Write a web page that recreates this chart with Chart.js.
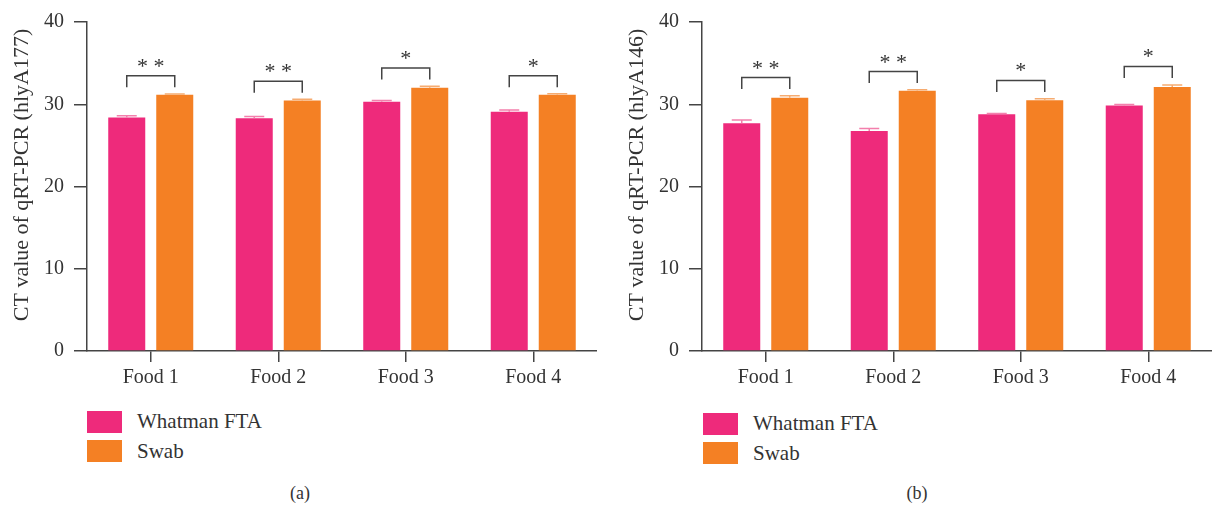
<!DOCTYPE html>
<html>
<head>
<meta charset="utf-8">
<script src="https://cdn.jsdelivr.net/npm/chart.js@4/dist/chart.umd.min.js"></script>
<style>
  body { margin: 0; background: #fff; width: 1212px; height: 506px; position: relative; overflow: hidden;
         font-family: 'Liberation Serif', serif; color: #333; }
  canvas { position: absolute; top: 0; }
  .key { position: absolute; width: 35px; height: 22px; }
  .keyText { position: absolute; font-size: 21px; line-height: 24px; white-space: nowrap; }
  .caption { position: absolute; top: 481px; width: 40px; text-align: center; font-size: 18px; line-height: 24px; }
</style>
</head>
<body>
<canvas id="chartA" width="597" height="400" style="left:0px;width:597px;height:400px"></canvas>
<canvas id="chartB" width="597" height="400" style="left:615px;width:597px;height:400px"></canvas>
<div id="legendA"></div>
<div id="legendB"></div>
<div class="caption" style="left:280px">(a)</div>
<div class="caption" style="left:897px">(b)</div>

<script>
  // Categories and series
  const categories = ['Food 1', 'Food 2', 'Food 3', 'Food 4'];
  const seriesNames = ['Whatman FTA', 'Swab'];
  const seriesColors = ['#EE2A7B', '#F48024'];
  const errorColors = ['rgba(242,120,168,0.95)', 'rgba(246,166,104,0.95)'];
  const yTicks = [0, 10, 20, 30, 40];

  // Panel (a): hlyA177
  const fta177 = [28.4, 28.3, 30.3, 29.1];
  const fta177Err = [0.2, 0.2, 0.15, 0.2];
  const swab177 = [31.15, 30.45, 32.0, 31.15];
  const swab177Err = [0.1, 0.15, 0.2, 0.12];
  const bracket177 = [33.45, 32.8, 34.4, 33.45];
  const stars177 = ['* *', '* *', '*', '*'];

  // Panel (b): hlyA146
  const fta146 = [27.7, 26.75, 28.77, 29.85];
  const fta146Err = [0.4, 0.3, 0.12, 0.12];
  const swab146 = [30.8, 31.63, 30.48, 32.1];
  const swab146Err = [0.22, 0.12, 0.18, 0.25];
  const bracket146 = [33.25, 33.97, 32.9, 34.6];
  const stars146 = ['* *', '* *', '*', '*'];

  const FONT = "'Liberation Serif', serif";
  const AXIS = '#444';
  const TEXT = '#333';

  Chart.defaults.font.family = FONT;
  Chart.defaults.color = TEXT;

  // Draws the small error caps above each bar
  const errorBarPlugin = {
    id: 'errorBars',
    afterDatasetsDraw(chart) {
      const ctx = chart.ctx;
      const yScale = chart.scales.y;
      chart.data.datasets.forEach((ds, di) => {
        const meta = chart.getDatasetMeta(di);
        meta.data.forEach((bar, i) => {
          const top = yScale.getPixelForValue(ds.data[i] + ds.errors[i]);
          ctx.save();
          ctx.strokeStyle = ds.errorColor;
          ctx.lineWidth = 1.5;
          ctx.beginPath();
          ctx.moveTo(bar.x, bar.y);
          ctx.lineTo(bar.x, top);
          ctx.moveTo(bar.x - 10, top);
          ctx.lineTo(bar.x + 10, top);
          ctx.stroke();
          ctx.restore();
        });
      });
    }
  };

  // Draws significance brackets with asterisks
  const bracketPlugin = {
    id: 'sigBrackets',
    afterDatasetsDraw(chart, args, opts) {
      const ctx = chart.ctx;
      const yScale = chart.scales.y;
      const left = chart.getDatasetMeta(0).data;
      const right = chart.getDatasetMeta(1).data;
      opts.tops.forEach((value, i) => {
        const y = yScale.getPixelForValue(value);
        const x1 = left[i].x;
        const x2 = right[i].x;
        ctx.save();
        ctx.strokeStyle = AXIS;
        ctx.lineWidth = 1.5;
        ctx.beginPath();
        ctx.moveTo(x1, y + 11.5);
        ctx.lineTo(x1, y);
        ctx.lineTo(x2, y);
        ctx.lineTo(x2, y + 11.5);
        ctx.stroke();
        ctx.fillStyle = TEXT;
        ctx.font = '22px ' + FONT;
        ctx.textAlign = 'center';
        ctx.textBaseline = 'alphabetic';
        ctx.fillText(opts.labels[i], (x1 + x2) / 2, y - 3);
        ctx.restore();
      });
      // Vertical axis title, placed a little above the plot centre as in the figure
      ctx.save();
      ctx.fillStyle = TEXT;
      ctx.font = '22px ' + FONT;
      ctx.textAlign = 'center';
      ctx.textBaseline = 'middle';
      ctx.translate(22, 175);
      ctx.rotate(-Math.PI / 2);
      ctx.fillText(opts.title, 0, 0);
      ctx.restore();
    }
  };

  function makeChart(canvasId, title, fta, ftaErr, swab, swabErr, tops, stars) {
    const ctx = document.getElementById(canvasId).getContext('2d');
    return new Chart(ctx, {
      type: 'bar',
      data: {
        labels: categories,
        datasets: [{
          label: seriesNames[0],
          data: fta,
          errors: ftaErr,
          errorColor: errorColors[0],
          backgroundColor: seriesColors[0],
          borderWidth: 0
        }, {
          label: seriesNames[1],
          data: swab,
          errors: swabErr,
          errorColor: errorColors[1],
          backgroundColor: seriesColors[1],
          borderWidth: 0
        }]
      },
      options: {
        responsive: false,
        animation: false,
        devicePixelRatio: 1,
        categoryPercentage: 0.753,
        barPercentage: 0.771,
        layout: { padding: { top: 16, right: 0, bottom: 0, left: 0 } },
        plugins: {
          legend: { display: false },
          tooltip: { enabled: false },
          sigBrackets: { tops: tops, labels: stars, title: title }
        },
        scales: {
          x: {
            afterFit: s => { s.height = 49; },
            grid: { display: true, drawOnChartArea: false, offset: false, tickLength: 11, color: AXIS, lineWidth: 1.5 },
            border: { display: true, color: AXIS, width: 1.5 },
            ticks: { font: { size: 20 }, color: TEXT, padding: 4, maxRotation: 0 }
          },
          y: {
            min: yTicks[0],
            max: yTicks[yTicks.length - 1],
            afterFit: s => { s.width = 87; },
            grid: { display: true, drawOnChartArea: false, tickLength: 13, color: AXIS, lineWidth: 1.5 },
            border: { display: true, color: AXIS, width: 1.5 },
            ticks: { stepSize: yTicks[1] - yTicks[0], font: { size: 20 }, color: TEXT, padding: 10 },
            title: { display: false, text: title }
          }
        }
      },
      plugins: [errorBarPlugin, bracketPlugin]
    });
  }

  // Legend built from the series names and colours
  function buildLegend(containerId, left, top) {
    const box = document.getElementById(containerId);
    seriesNames.forEach((name, i) => {
      const key = document.createElement('div');
      key.className = 'key';
      key.style.left = left + 'px';
      key.style.top = (top + i * 29) + 'px';
      key.style.background = seriesColors[i];
      box.appendChild(key);
      const txt = document.createElement('div');
      txt.className = 'keyText';
      txt.style.left = (left + 50) + 'px';
      txt.style.top = (top - 2 + i * 30) + 'px';
      txt.textContent = name;
      box.appendChild(txt);
    });
  }

  makeChart('chartA', 'CT value of qRT-PCR (hlyA177)', fta177, fta177Err, swab177, swab177Err, bracket177, stars177);
  makeChart('chartB', 'CT value of qRT-PCR (hlyA146)', fta146, fta146Err, swab146, swab146Err, bracket146, stars146);
  buildLegend('legendA', 87, 411);
  buildLegend('legendB', 703, 413);
</script>
</body>
</html>
